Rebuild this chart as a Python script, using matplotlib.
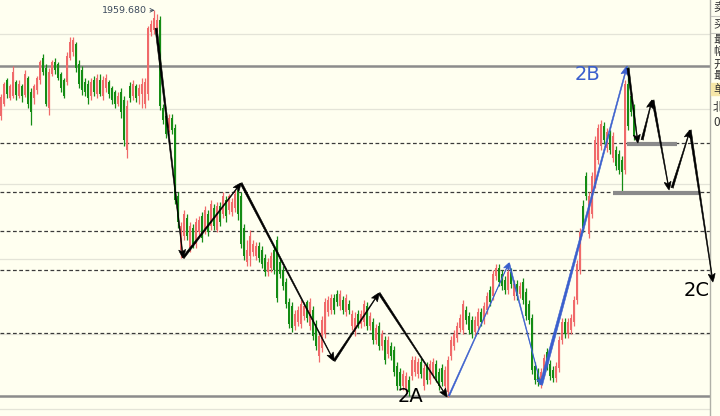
import numpy as np
import matplotlib
matplotlib.use("Agg")
import matplotlib.pyplot as plt
from matplotlib.patches import FancyArrowPatch, ArrowStyle

plt.rcParams['font.family'] = ['DejaVu Sans', 'Noto Sans CJK SC']

# candle data (one bar per session)
opens = [1854,1866,1890,1872,1874,1888,1874,1884,1875,1892,1878,1872,1880,1890,1912,1902,1862,1896,1908,1906,
         1896,1890,1888,1912,1918,1926,1906,1900,1888,1886,1874,1890,1876,1890,1874,1882,1888,1882,1878,1866,
         1878,1870,1820,1884,1874,1884,1874,1876,1866,1876,1938,1940,1942,1950,1862,1854,1842,1852,1842,1774,
         1720,1734,1752,1722,1742,1726,1738,1754,1740,1756,1744,1762,1740,1764,1756,1770,1760,1758,1762,1780,
         1774,1742,1708,1714,1718,1714,1724,1720,1712,1698,1702,1720,1730,1708,1700,1688,1668,1664,1644,1648,
         1646,1654,1668,1644,1660,1646,1614,1622,1636,1658,1660,1672,1676,1664,1670,1658,1666,1644,1638,1656,
         1646,1648,1664,1644,1648,1630,1644,1624,1630,1616,1624,1620,1604,1598,1584,1582,1590,1594,1598,1596,
         1608,1584,1604,1590,1596,1606,1598,1602,1584,1578,1614,1624,1632,1642,1640,1660,1654,1650,1638,1644,
         1658,1650,1660,1680,1674,1694,1702,1696,1690,1680,1698,1674,1686,1676,1688,1678,1666,1652,1604,1598,
         1588,1598,1618,1606,1600,1592,1602,1630,1648,1636,1640,1648,1670,1700,1764,1794,1736,1756,1786,1810,
         1824,1844,1822,1836,1812,1820,1816,1810,1800,1886,1874,1862]
closes = [1873,1886,1876,1884,1898,1875,1886,1874,1896,1866,1858,1884,1892,1908,1898,1866,1898,1908,1900,1892,
          1882,1874,1914,1928,1930,1902,1886,1880,1878,1872,1888,1878,1892,1876,1890,1892,1876,1870,1866,1874,
          1858,1830,1864,1872,1886,1872,1882,1886,1888,1942,1946,1952,1950,1864,1850,1836,1852,1840,1770,1748,
          1744,1756,1734,1744,1726,1748,1750,1732,1760,1738,1766,1744,1764,1748,1774,1754,1774,1768,1776,1756,
          1726,1714,1720,1734,1726,1724,1712,1706,1698,1708,1714,1700,1672,1696,1684,1666,1646,1642,1656,1660,
          1666,1664,1652,1668,1634,1624,1634,1650,1668,1670,1672,1660,1668,1676,1660,1672,1660,1656,1652,1646,
          1656,1666,1644,1654,1630,1642,1624,1636,1610,1630,1614,1598,1584,1584,1596,1594,1578,1610,1610,1608,
          1596,1602,1590,1606,1608,1592,1584,1588,1600,1610,1630,1636,1644,1652,1666,1650,1640,1636,1650,1658,
          1648,1664,1674,1668,1696,1702,1688,1684,1680,1698,1686,1686,1674,1684,1670,1654,1650,1600,1590,1588,
          1598,1612,1604,1594,1592,1604,1630,1648,1636,1648,1652,1670,1706,1738,1742,1774,1774,1794,1830,1842,
          1846,1830,1838,1820,1834,1804,1800,1798,1886,1844,1858,1834]
highs = [1876,1888,1892,1886,1904,1890,1890,1886,1900,1894,1882,1886,1894,1910,1916,1906,1902,1910,1912,1908,
         1898,1892,1918,1933,1933,1928,1910,1904,1892,1890,1892,1894,1896,1896,1894,1896,1890,1884,1880,1878,
         1882,1874,1870,1888,1890,1886,1886,1892,1892,1944,1950,1959.68,1956,1954,1866,1858,1856,1856,1846,1778,
         1748,1760,1756,1748,1746,1752,1754,1758,1764,1760,1770,1766,1768,1768,1778,1774,1776,1772,1780,1786,
         1778,1746,1730,1740,1730,1728,1728,1724,1716,1712,1718,1724,1734,1712,1704,1692,1672,1668,1660,1664,
         1670,1668,1670,1672,1664,1650,1638,1654,1672,1674,1676,1676,1680,1680,1674,1676,1670,1660,1658,1660,
         1660,1670,1668,1658,1652,1646,1648,1640,1634,1634,1628,1624,1608,1602,1600,1598,1594,1614,1614,1612,
         1612,1606,1608,1610,1612,1610,1602,1606,1604,1614,1634,1640,1648,1656,1670,1664,1658,1654,1654,1662,
         1662,1668,1678,1684,1700,1706,1706,1700,1694,1706,1702,1690,1690,1688,1692,1682,1670,1656,1608,1602,
         1602,1616,1622,1610,1604,1608,1634,1652,1652,1652,1656,1674,1710,1742,1770,1798,1778,1798,1834,1846,
         1850,1848,1842,1840,1838,1824,1820,1814,1890,1903,1878,1866]
lows = [1850,1864,1872,1870,1872,1870,1872,1868,1873,1862,1845,1866,1876,1886,1895,1864,1855,1894,1896,1890,
        1878,1872,1885,1910,1914,1898,1882,1875,1874,1866,1870,1874,1872,1874,1870,1878,1872,1866,1862,1864,
        1852,1824,1812,1868,1870,1868,1866,1862,1862,1870,1934,1936,1938,1860,1846,1832,1838,1836,1766,1742,
        1712,1730,1730,1718,1722,1722,1734,1728,1736,1734,1740,1740,1738,1744,1752,1748,1756,1754,1758,1750,
        1722,1710,1704,1704,1714,1710,1708,1702,1694,1694,1698,1696,1668,1692,1680,1662,1642,1638,1640,1644,
        1642,1650,1648,1640,1630,1620,1608,1618,1632,1654,1656,1656,1664,1660,1656,1654,1656,1640,1634,1642,
        1642,1644,1640,1640,1626,1626,1620,1620,1606,1612,1610,1594,1580,1580,1580,1578,1574,1590,1594,1592,
        1592,1580,1586,1586,1592,1588,1580,1584,1578,1573,1610,1620,1628,1638,1636,1646,1636,1632,1634,1640,
        1644,1646,1656,1664,1670,1690,1684,1680,1676,1676,1682,1670,1670,1672,1666,1650,1646,1596,1586,1584,
        1582,1594,1600,1590,1588,1588,1598,1626,1632,1632,1636,1644,1666,1696,1738,1770,1732,1752,1782,1806,
        1820,1826,1818,1816,1808,1800,1796,1776,1796,1840,1854,1830]

# wave pivots (bar index, price)
wave_i = [51.7, 60.7, 80.0, 111.0, 126.0, 148.7]
wave_p = [1942, 1712, 1787, 1609, 1677, 1573]
blue_i = [149.3, 169.3, 180.0, 208.7]
blue_p = [1574, 1707, 1585, 1904]
# projected path after 2B
proj_start_i = [209.0, 213.7, 217.3, 223.7, 229.7]
proj_start_p = [1902, 1830, 1870, 1782, 1840]
proj_end_i = [212.3, 217.0, 222.7, 229.7, 237.3]
proj_end_p = [1827, 1870, 1780, 1840, 1688]
# support marks
sup_p = [1826, 1777]
sup_from = [208.7, 204.0]
sup_to = [225.3, 233.0]

thick_levels = [1904, 1574]
dash_levels = [1827, 1778, 1739, 1700, 1637]
grid_levels = [1936, 1861, 1786, 1711, 1636, 1561]

bg = '#fffff0'
fig = plt.figure(figsize=(7.2, 4.16), dpi=100, facecolor=bg)
ax = fig.add_axes([0, 0, 710 / 720, 1])
ax.set_facecolor(bg)

o = np.array(opens, dtype=float)
c = np.array(closes, dtype=float)
h = np.array(highs, dtype=float)
l = np.array(lows, dtype=float)
x = np.arange(len(o))
up = c >= o
cols = np.where(up, '#f06a6a', '#148c14')

for lv in grid_levels:
    ax.axhline(lv, color='#e4e4d8', lw=0.9, zorder=0)
for lv in dash_levels:
    ax.axhline(lv, color='#3a3a3a', lw=0.9, ls=(0, (3, 2)), zorder=1)
for lv in thick_levels:
    ax.axhline(lv, color='#8c8c8c', lw=1.8, zorder=1)

ax.vlines(x, l, h, colors=cols, lw=0.9, zorder=2)
ax.bar(x, np.abs(c - o) + 0.8, bottom=np.minimum(o, c) - 0.4, width=0.7,
       color=cols, edgecolor='none', zorder=3)


def arrow(a, b, color, ms, tail=0.16):
    st = ArrowStyle.Fancy(head_length=0.6, head_width=0.5, tail_width=tail)
    p = FancyArrowPatch(a, b, arrowstyle=st, mutation_scale=ms, color=color,
                        lw=0.4, shrinkA=0, shrinkB=0, zorder=5, clip_on=False)
    ax.add_patch(p)


for k in range(len(wave_i) - 1):
    arrow((wave_i[k], wave_p[k]), (wave_i[k + 1], wave_p[k + 1]), 'black', 10)
for k in range(len(blue_i) - 1):
    if k == 2:
        arrow((blue_i[k], blue_p[k]), (blue_i[k + 1], blue_p[k + 1]), '#3a5fcd', 11, tail=0.2)
    else:
        arrow((blue_i[k], blue_p[k]), (blue_i[k + 1], blue_p[k + 1]), '#3a5fcd', 8, tail=0.12)
for k in range(len(proj_start_i)):
    arrow((proj_start_i[k], proj_start_p[k]), (proj_end_i[k], proj_end_p[k]), 'black', 10)

for k in range(len(sup_p)):
    ax.plot([sup_from[k], sup_to[k]], [sup_p[k], sup_p[k]], color='#8a8a8a', lw=3, zorder=4,
            solid_capstyle='butt')

ax.annotate('1959.680', xy=(51.2, 1959.68), xytext=(48.8, 1959.68), ha='right', va='center',
            fontsize=6.8, color='#3c4a5c',
            arrowprops=dict(arrowstyle='->', color='#3c4a5c', lw=0.6, shrinkA=0, shrinkB=0))
ax.text(132.3, 1573, '2A', fontsize=14, color='black', ha='left', va='center', zorder=6)
ax.text(191.3, 1895, '2B', fontsize=14, color='#3a5fcd', ha='left', va='center', zorder=6)
ax.text(227.7, 1680, '2C', fontsize=14, color='black', ha='left', va='center', zorder=6)

ax.set_xlim(-1 / 3, 709 / 3)
ax.set_ylim(1554, 1970)
ax.set_xticks([])
ax.set_yticks([])
for s in ['top', 'left', 'bottom']:
    ax.spines[s].set_visible(False)
ax.spines['right'].set_color('#b0b0a8')
ax.spines['right'].set_linewidth(1)

# right info panel (cut off at the edge, as in the source screenshot)
panel_labels = ['卖', '买', '最', '幅', '开', '最', '单', '北', '0']
panel_y = [7, 24, 40, 52, 64, 76, 89, 107, 122]
fig.patches.append(plt.Rectangle((711 / 720, 1 - 95 / 416), 9 / 720, 12 / 416,
                                 transform=fig.transFigure, color='#f6e7a8', zorder=0))
for yy in [16, 33]:
    fig.lines.append(plt.Line2D([711 / 720, 1], [1 - yy / 416] * 2, transform=fig.transFigure,
                                color='#c8c8c0', lw=0.8))
for t, yy in zip(panel_labels, panel_y):
    fig.text(713 / 720, 1 - yy / 416, t, fontsize=8.5, ha='left', va='center', color='#333333',
             family=['Noto Sans CJK SC', 'DejaVu Sans'])

fig.savefig('out.png', dpi=100, facecolor=bg)
